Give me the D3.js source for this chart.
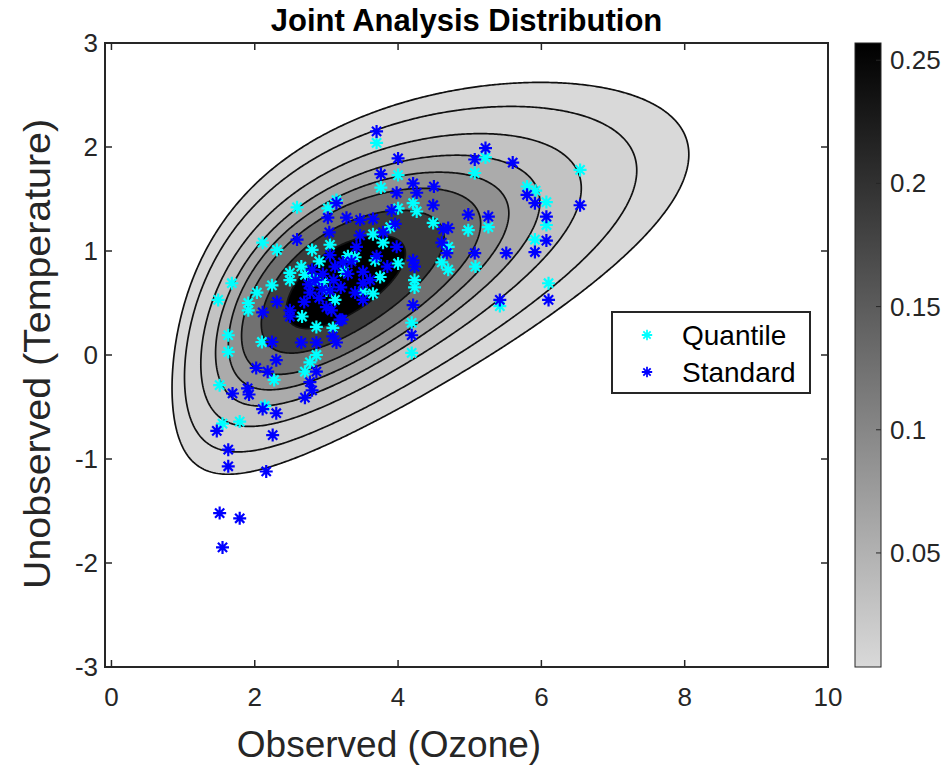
<!DOCTYPE html>
<html>
<head>
<meta charset="utf-8">
<script src="https://cdn.jsdelivr.net/npm/d3@7"></script>
<style>
  body { margin: 0; background: #fff; }
  text { font-family: "Liberation Sans", Arial, Helvetica, sans-serif; fill: #262626; }
</style>
</head>
<body>
<div id="chart"></div>
<script>
// ---- data ----
let xTicks = [0, 2, 4, 6, 8, 10];
let yTicks = [-3, -2, -1, 0, 1, 2, 3];
let cbarTicks = [0.05, 0.1, 0.15, 0.2, 0.25];
let cbarRange = [0.0037, 0.257];

// contour levels of the joint density
let levels = [0.0037, 0.0095, 0.024, 0.045, 0.069, 0.098, 0.145, 0.2];

// joint density: gamma marginal for ozone, normal for temperature given ozone
// [gamma shape, gamma scale, cond. intercept, cond. slope on sqrt(x), cond. sd]
let densityParams = [8.11, 0.45, -1.393, 1.17, 0.516];

let quantileX = [3.70, 4.00, 3.76, 4.21, 4.26, 4.49, 4.00, 3.89, 3.65, 3.79, 4.00, 3.40, 3.68, 4.23, 4.23, 3.51, 3.65,
  3.14, 3.02, 3.05, 2.80, 2.59, 2.31, 2.11, 1.68, 1.49, 2.03, 1.91, 2.24, 2.49, 2.49, 2.66, 2.70, 2.82, 2.95, 3.12,
  2.86, 5.22, 5.07, 6.54, 5.80, 5.92, 6.07, 6.07, 5.91, 6.10, 5.42, 4.98, 5.26, 5.08, 4.70, 4.61, 4.70, 4.19, 4.19,
  2.86, 2.77, 2.70, 3.09, 1.63, 1.63, 2.10, 2.27, 1.51, 2.14, 1.55, 1.79, 1.91, 2.65, 2.90, 3.00, 3.30, 3.75, 3.25];
let quantileY = [2.04, 1.73, 1.61, 1.46, 1.38, 1.27, 1.41, 1.23, 1.16, 1.08, 0.88, 0.94, 0.91, 0.72, 0.65, 0.61, 0.59,
  1.49, 1.41, 1.06, 1.01, 1.42, 1.01, 1.08, 0.69, 0.53, 0.60, 0.50, 0.67, 0.79, 0.72, 0.37, 0.77, 0.72, 0.70, 0.53,
  0.27, 1.90, 1.75, 1.78, 1.62, 1.58, 1.47, 1.25, 1.11, 0.69, 0.47, 1.20, 1.23, 0.85, 1.04, 0.89, 0.82, 0.31, 0.02,
  0.00, -0.07, -0.16, 0.26, 0.19, 0.03, 0.125, -0.24, -0.29, -0.49, -0.66, -0.64, 0.43, 0.85, 0.90, 0.62, 0.95, 0.75, 0.80];

let standardX = [3.70, 4.00, 3.76, 3.98, 4.21, 4.26, 4.50, 4.49, 3.91, 3.96, 3.65, 3.79, 3.98, 3.47, 3.42, 4.21, 4.23,
  4.21, 3.51, 3.61, 3.51, 3.14, 3.02, 3.28, 3.04, 3.05, 2.59, 2.11, 2.31, 2.49, 2.80, 2.77, 2.94, 2.69, 3.00, 3.07,
  3.23, 3.12, 3.22, 3.51, 3.47, 5.22, 5.07, 5.60, 6.54, 5.80, 5.91, 6.07, 6.07, 5.91, 6.10, 5.42, 5.51, 4.98, 5.26,
  5.07, 4.63, 4.70, 4.61, 4.68, 4.19, 2.65, 2.86, 2.86, 2.77, 2.80, 2.70, 3.09, 3.14, 3.19, 2.49, 2.24, 2.30, 2.02,
  2.18, 1.69, 1.90, 1.92, 2.11, 2.30, 1.47, 2.25, 1.63, 1.63, 2.16, 1.51, 1.79, 1.55, 2.85, 2.95, 3.10, 3.20, 3.30,
  2.90, 3.05, 2.75, 3.35, 3.40, 3.70, 3.85];
let standardY = [2.15, 1.89, 1.74, 1.56, 1.65, 1.56, 1.62, 1.44, 1.39, 1.26, 1.31, 1.18, 1.04, 1.15, 1.04, 0.91, 0.85,
  0.48, 0.80, 0.72, 0.69, 1.46, 1.32, 1.32, 1.18, 0.96, 1.11, 0.41, 0.51, 0.43, 0.82, 0.60, 0.63, 0.51, 0.46, 0.43,
  0.89, 0.85, 0.34, 0.53, 1.30, 1.99, 1.88, 1.85, 1.44, 1.54, 1.46, 1.33, 1.10, 0.99, 0.53, 0.53, 0.98, 1.35, 1.33,
  0.98, 1.21, 1.22, 1.08, 0.98, 0.19, 0.12, 0.12, -0.16, -0.26, -0.34, -0.41, 0.18, 0.12, 0.34, 0.37, 0.125, -0.05, -0.125,
  -0.16, -0.37, -0.32, -0.38, -0.52, -0.56, -0.73, -0.77, -0.91, -1.07, -1.12, -1.52, -1.57, -1.85, 0.72, 0.78, 0.72, 0.65, 0.78,
  0.55, 0.62, 0.68, 0.90, 0.60, 0.95, 0.85];

// ---- layout ----
let w = 947, h = 770;
let plot = { left: 105, right: 828, top: 43, bottom: 667 };
let cbar = { left: 855, width: 26 };

let svg = d3.select("#chart")
  .append("svg")
  .attr("width", w)
  .attr("height", h);

let x = d3.scaleLinear().domain([-0.09, 10]).range([plot.left, plot.right]);
let y = d3.scaleLinear().domain([-3, 3]).range([plot.bottom, plot.top]);
let cScale = d3.scaleLinear().domain(cbarRange).range([plot.bottom, plot.top]);
let gray = d3.scaleLinear().domain(cbarRange).range(["#d9d9d9", "#000000"]).clamp(true);
// filled bands take the colour of their lower level, stretched over the level range
let bandGray = d3.scaleLinear().domain([levels[0], levels[levels.length - 1]]).range(["#d9d9d9", "#000000"]);

// ---- density grid ----
function lnGamma(z) {
  return (z - 0.5) * Math.log(z) - z + 0.5 * Math.log(2 * Math.PI) + 1 / (12 * z) - 1 / (360 * z * z * z);
}

let [k, theta, ca, cb, cs] = densityParams;
let lnNorm = -lnGamma(k) - k * Math.log(theta);

function density(xv, yv) {
  if (xv <= 0) return 0;
  let g = Math.exp((k - 1) * Math.log(xv) - xv / theta + lnNorm);
  let mu = ca + cb * Math.sqrt(xv);
  let z = (yv - mu) / cs;
  return g * Math.exp(-0.5 * z * z) / (cs * Math.sqrt(2 * Math.PI));
}

let nx = 420, ny = 320;
let dx = (x.domain()[1] - x.domain()[0]) / nx;
let dy = (y.domain()[1] - y.domain()[0]) / ny;
let values = new Array(nx * ny);
for (let j = 0; j < ny; j++) {
  for (let i = 0; i < nx; i++) {
    let xv = x.domain()[0] + (i + 0.5) * dx;
    let yv = y.domain()[1] - (j + 0.5) * dy;
    values[j * nx + i] = density(xv, yv);
  }
}

let contours = d3.contours().size([nx, ny]).thresholds(levels)(values);

let sx = (plot.right - plot.left) / nx;
let sy = (plot.bottom - plot.top) / ny;
let path = d3.geoPath(d3.geoTransform({
  point: function(px, py) { this.stream.point(plot.left + px * sx, plot.top + py * sy); }
}));

svg.append("clipPath").attr("id", "clip")
  .append("rect")
  .attr("x", plot.left).attr("y", plot.top)
  .attr("width", plot.right - plot.left).attr("height", plot.bottom - plot.top);

let cg = svg.append("g").attr("clip-path", "url(#clip)");

cg.selectAll("path.band")
  .data(contours)
  .enter()
  .append("path")
  .attr("class", "band")
  .attr("d", path)
  .attr("fill", d => bandGray(d.value))
  .attr("stroke", "#111")
  .attr("stroke-width", 1.7)
  .attr("stroke-linejoin", "round");

// ---- scatter (asterisk markers) ----
let star = "M-6.5,0H6.5M0,-6.5V6.5M-4.6,-4.6L4.6,4.6M-4.6,4.6L4.6,-4.6";

function drawStars(xs, ys, color) {
  cg.append("g")
    .selectAll("path")
    .data(xs.map((v, i) => [v, ys[i]]))
    .enter()
    .append("path")
    .attr("d", star)
    .attr("transform", d => "translate(" + x(d[0]) + "," + y(d[1]) + ")")
    .attr("stroke", color)
    .attr("stroke-width", 2.2)
    .attr("fill", "none");
}

drawStars(quantileX, quantileY, "#00ffff");
drawStars(standardX, standardY, "#0000ff");

// ---- axes box with inward ticks ----
let axisColor = "#262626";
let tickLen = 7;
let ax = svg.append("g");

ax.append("rect")
  .attr("x", plot.left).attr("y", plot.top)
  .attr("width", plot.right - plot.left).attr("height", plot.bottom - plot.top)
  .attr("fill", "none").attr("stroke", axisColor).attr("stroke-width", 2);

xTicks.forEach(t => {
  ax.append("line").attr("x1", x(t)).attr("x2", x(t)).attr("y1", plot.bottom).attr("y2", plot.bottom - tickLen)
    .attr("stroke", axisColor).attr("stroke-width", 1.5);
  ax.append("line").attr("x1", x(t)).attr("x2", x(t)).attr("y1", plot.top).attr("y2", plot.top + tickLen)
    .attr("stroke", axisColor).attr("stroke-width", 1.5);
});
yTicks.forEach(t => {
  ax.append("line").attr("x1", plot.left).attr("x2", plot.left + tickLen).attr("y1", y(t)).attr("y2", y(t))
    .attr("stroke", axisColor).attr("stroke-width", 1.5);
  ax.append("line").attr("x1", plot.right).attr("x2", plot.right - tickLen).attr("y1", y(t)).attr("y2", y(t))
    .attr("stroke", axisColor).attr("stroke-width", 1.5);
});

ax.selectAll("text.xt")
  .data(xTicks)
  .enter()
  .append("text")
  .attr("x", d => x(d))
  .attr("y", 706)
  .attr("text-anchor", "middle")
  .style("font-size", "26px")
  .text(d => d);

ax.selectAll("text.yt")
  .data(yTicks)
  .enter()
  .append("text")
  .attr("x", 98)
  .attr("y", d => y(d) + 9)
  .attr("text-anchor", "end")
  .style("font-size", "26px")
  .text(d => d);

// ---- labels ----
svg.append("text")
  .attr("x", (plot.left + plot.right) / 2)
  .attr("y", 31)
  .attr("text-anchor", "middle")
  .style("font-size", "31px")
  .style("font-weight", "bold")
  .style("fill", "#000")
  .text("Joint Analysis Distribution");

svg.append("text")
  .attr("x", 389)
  .attr("y", 757)
  .attr("text-anchor", "middle")
  .style("font-size", "37px")
  .text("Observed (Ozone)");

svg.append("text")
  .attr("transform", "translate(50,354) rotate(-90)")
  .attr("text-anchor", "middle")
  .attr("textLength", 470)
  .attr("lengthAdjust", "spacingAndGlyphs")
  .style("font-size", "37px")
  .text("Unobserved (Temperature)");

// ---- colorbar ----
let grad = svg.append("defs").append("linearGradient")
  .attr("id", "cgrad")
  .attr("x1", 0).attr("y1", 1).attr("x2", 0).attr("y2", 0);
grad.append("stop").attr("offset", 0).attr("stop-color", gray(cbarRange[0]));
grad.append("stop").attr("offset", 1).attr("stop-color", gray(cbarRange[1]));

svg.append("rect")
  .attr("x", cbar.left).attr("y", plot.top)
  .attr("width", cbar.width).attr("height", plot.bottom - plot.top)
  .attr("fill", "url(#cgrad)")
  .attr("stroke", axisColor).attr("stroke-width", 1);

cbarTicks.forEach(t => {
  svg.append("line")
    .attr("x1", cbar.left + cbar.width).attr("x2", cbar.left + cbar.width - 5)
    .attr("y1", cScale(t)).attr("y2", cScale(t))
    .attr("stroke", axisColor).attr("stroke-width", 1);
  svg.append("text")
    .attr("x", cbar.left + cbar.width + 9)
    .attr("y", cScale(t) + 9)
    .style("font-size", "26px")
    .text(t);
});

// ---- legend ----
let lg = svg.append("g");
lg.append("rect")
  .attr("x", 612).attr("y", 312).attr("width", 198).attr("height", 81)
  .attr("fill", "#fff").attr("stroke", axisColor).attr("stroke-width", 2);

[["Quantile", "#00ffff", 335], ["Standard", "#0000ff", 372]].forEach(e => {
  lg.append("path")
    .attr("d", star)
    .attr("transform", "translate(647," + e[2] + ") scale(0.8)")
    .attr("stroke", e[1]).attr("stroke-width", 2.2).attr("fill", "none");
  lg.append("text")
    .attr("x", 682)
    .attr("y", e[2] + 10)
    .style("font-size", "28px")
    .style("fill", "#000")
    .text(e[0]);
});
</script>
</body>
</html>
